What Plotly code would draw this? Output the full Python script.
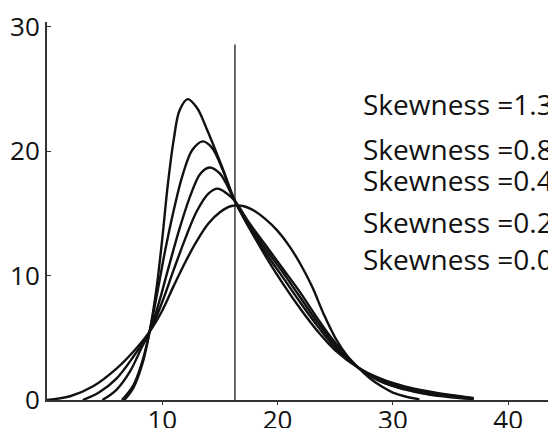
import plotly.graph_objects as go

# Curves (x, y) for each skewness level
skew_labels = ["Skewness =1.3", "Skewness =0.8", "Skewness =0.4", "Skewness =0.2", "Skewness =0.0"]

x_s13 = [6.7, 7.5, 8.3, 8.9, 9.5, 10.0, 10.5, 11.0, 11.5, 12.2, 13.0, 13.9, 15.2, 16.3, 17.5, 19.0, 20.5, 22.0, 23.5, 25.0, 27.0, 29.0, 31.0, 33.0, 35.0, 37.0]
y_s13 = [0.0, 1.0, 3.0, 5.5, 9.0, 13.0, 17.5, 21.0, 23.3, 24.2, 23.5, 21.7, 18.7, 16.0, 13.9, 11.5, 9.3, 7.3, 5.5, 4.0, 2.6, 1.7, 1.1, 0.7, 0.4, 0.15]

x_s08 = [6.5, 7.5, 8.3, 8.9, 9.5, 10.2, 11.0, 11.8, 12.6, 13.5, 14.3, 15.2, 16.3, 17.5, 19.0, 20.5, 22.0, 23.5, 25.0, 27.0, 29.0, 31.0, 33.0, 35.0, 37.0]
y_s08 = [0.0, 1.2, 3.2, 5.5, 8.3, 11.8, 15.3, 18.2, 20.1, 20.8, 20.3, 18.6, 16.0, 14.0, 11.8, 9.8, 7.8, 5.9, 4.2, 2.6, 1.6, 1.0, 0.6, 0.35, 0.15]

x_s04 = [4.8, 6.0, 7.2, 8.2, 8.9, 9.7, 10.5, 11.5, 12.5, 13.3, 14.1, 15.0, 16.3, 17.5, 19.0, 20.5, 22.0, 23.5, 25.0, 27.0, 29.0, 31.0, 33.0, 35.0, 37.0]
y_s04 = [0.0, 0.8, 2.3, 4.2, 5.5, 7.8, 10.5, 13.8, 16.6, 18.2, 18.7, 18.2, 16.0, 14.1, 12.1, 10.2, 8.2, 6.2, 4.4, 2.6, 1.5, 0.9, 0.5, 0.28, 0.1]

x_s02 = [3.1, 4.5, 6.0, 7.5, 8.9, 10.0, 11.0, 12.0, 13.0, 14.0, 14.8, 15.6, 16.3, 17.5, 19.0, 20.5, 22.0, 23.5, 25.0, 27.0, 29.0, 31.0, 33.0, 35.0, 37.0]
y_s02 = [0.0, 0.6, 1.7, 3.5, 5.5, 7.9, 10.5, 13.0, 15.2, 16.6, 17.0, 16.6, 16.0, 14.3, 12.4, 10.5, 8.6, 6.5, 4.6, 2.6, 1.45, 0.85, 0.45, 0.22, 0.08]

x_s00 = [0.0, 2.0, 4.0, 6.0, 7.5, 8.9, 10.0, 11.0, 12.0, 13.0, 14.0, 15.0, 16.0, 17.0, 18.0, 19.0, 20.0, 21.0, 22.0, 23.0, 24.0, 25.0, 26.0, 27.0, 28.0, 29.0, 30.0, 31.0, 32.3]
y_s00 = [0.0, 0.3, 1.1, 2.5, 3.9, 5.5, 7.2, 9.2, 11.1, 12.8, 14.2, 15.1, 15.6, 15.6, 15.2, 14.5, 13.6, 12.4, 10.9, 9.1, 6.9, 5.0, 3.6, 2.6, 1.75, 1.1, 0.6, 0.3, 0.05]

curves = [(x_s13, y_s13), (x_s08, y_s08), (x_s04, y_s04), (x_s02, y_s02), (x_s00, y_s00)]

label_x = 27.2
label_y = [23.8, 20.2, 17.7, 14.3, 11.3]

mean_x = 16.3
mean_top = 28.6

x_ticks = [10, 20, 30, 40]
y_ticks = [0, 10, 20, 30]

fig = go.Figure()

fig.add_trace(go.Scatter(x=[mean_x, mean_x], y=[0, mean_top], mode="lines",
                         line=dict(color="#444444", width=1.6), hoverinfo="skip", showlegend=False))

for (xs, ys), name in zip(curves, skew_labels):
    fig.add_trace(go.Scatter(x=xs, y=ys, mode="lines", name=name,
                             line=dict(color="#111111", width=2.4, shape="spline", smoothing=1.0),
                             showlegend=False))

for txt, ly in zip(skew_labels, label_y):
    fig.add_annotation(x=label_x, y=ly, xref="x", yref="y", text=txt, showarrow=False,
                       xanchor="left", yanchor="middle",
                       font=dict(family="Open Sans, sans-serif", size=28, color="#111111"))

fig.update_layout(
    width=548, height=428,
    margin=dict(l=47, r=0, t=22, b=28, autoexpand=False),
    paper_bgcolor="white", plot_bgcolor="white",
    font=dict(family="Open Sans, sans-serif", color="#111111"),
    xaxis=dict(range=[0, 43.45], tickvals=x_ticks, ticktext=[str(v) for v in x_ticks],
               showgrid=False, zeroline=False, showline=True, linecolor="#333333", linewidth=2,
               ticks="outside", ticklen=3, tickcolor="#333333", tickfont=dict(size=26),
               ticklabelstandoff=-7, automargin=False),
    yaxis=dict(range=[0, 30.4], tickvals=y_ticks, ticktext=[str(v) for v in y_ticks],
               showgrid=False, zeroline=False, showline=True, linecolor="#333333", linewidth=2,
               ticks="inside", ticklen=4, tickcolor="#333333", tickfont=dict(size=26),
               automargin=False),
)

fig.write_html("out.html", config={"displayModeBar": False},
               post_script="document.body.style.margin='0';document.body.style.overflow='hidden';")
